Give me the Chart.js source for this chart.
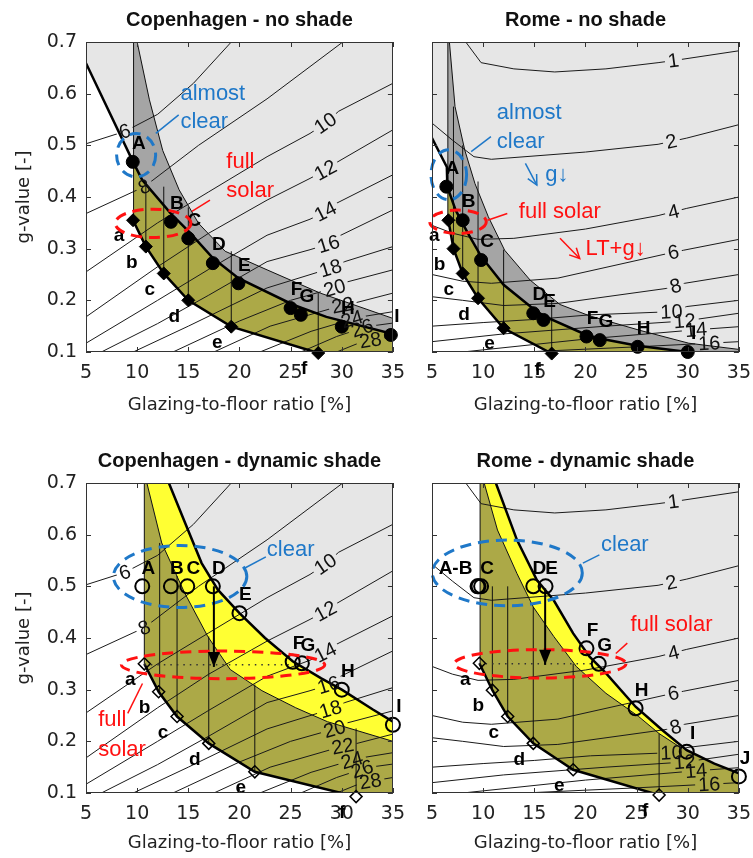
<!DOCTYPE html>
<html lang="en">
<head>
<meta charset="UTF-8">
<title>g-value vs glazing-to-floor ratio</title>
<script src="https://cdn.jsdelivr.net/npm/chart.js@4.4.1/dist/chart.umd.min.js"></script>
<style>
  body { margin: 0; background: #fff; }
  #wrap { position: relative; width: 753px; height: 858px; overflow: hidden; }
  canvas { position: absolute; }
</style>
</head>
<body>
<div id="wrap">
  <canvas id="tl" width="415" height="420" style="left:0;top:0"></canvas>
  <canvas id="tr" width="415" height="420" style="left:346px;top:0"></canvas>
  <canvas id="bl" width="415" height="418" style="left:0;top:440px"></canvas>
  <canvas id="br" width="415" height="418" style="left:346px;top:440px"></canvas>
</div>
<script>
// axes
const xTicks = [5, 10, 15, 20, 25, 30, 35];
const yTicks = [0.1, 0.2, 0.3, 0.4, 0.5, 0.6, 0.7];

// contour lines, Copenhagen
const cphLevels = [6, 8, 10, 12, 14, 16, 18, 20, 22, 24, 26, 28];
const cphLines = [
  [[5,0.503],[8.8,0.527],[12,0.56],[15.5,0.62],[19.2,0.7]],
  [[5,0.368],[10.7,0.42],[16,0.5],[22.7,0.59],[30.1,0.7]],
  [[5,0.255],[12,0.35],[17,0.41],[22.7,0.478],[26.9,0.523],[28.4,0.543],[29.7,0.566],[35,0.62]],
  [[5,0.168],[12,0.265],[17,0.33],[22.7,0.394],[26.9,0.436],[28.4,0.452],[29.6,0.468],[35,0.53]],
  [[5,0.117],[12,0.2],[17,0.26],[22.7,0.326],[26.9,0.357],[28.4,0.372],[29.5,0.388],[35,0.443]],
  [[5,0.085],[12,0.155],[17,0.21],[22.7,0.275],[26.9,0.298],[28.7,0.309],[29.8,0.325],[35,0.375]],
  [[8,0.085],[15,0.15],[22.7,0.224],[28.9,0.262],[30.3,0.275],[35,0.304]],
  [[13.5,0.1],[20,0.16],[25,0.2],[29.3,0.224],[30.6,0.236],[35,0.259]],
  [[17.5,0.1],[23,0.15],[30,0.19],[31.3,0.195],[35,0.214]],
  [[22,0.1],[27,0.14],[31.6,0.167],[35,0.178]],
  [[26,0.1],[29.5,0.13],[32.4,0.149],[35,0.156]],
  [[29.5,0.1],[32,0.12],[35,0.13]]
];
const cphLabelX = [8.8, 10.7, 28.4, 28.4, 28.4, 28.7, 28.9, 29.3, 30.1, 31.0, 32.0, 32.8];

// contour lines, Rome
const romLevels = [1, 2, 4, 6, 8, 10, 12, 14, 16];
const romLines = [
  [[8.3,0.7],[9.8,0.66],[13,0.648],[17,0.642],[22,0.648],[27.1,0.66],[28.6,0.664],[35,0.683]],
  [[5,0.543],[7,0.51],[9.1,0.478],[10.8,0.473],[20,0.487],[27.1,0.502],[29.9,0.514],[35,0.54]],
  [[5,0.345],[7,0.33],[9.5,0.318],[13,0.32],[20,0.338],[27.1,0.364],[29.9,0.378],[35,0.4]],
  [[5,0.25],[8,0.237],[10.8,0.233],[17.3,0.243],[27.9,0.29],[29.6,0.297],[35,0.318]],
  [[5,0.207],[8,0.2],[12,0.19],[17.3,0.194],[27.9,0.223],[29.7,0.233],[35,0.25]],
  [[5,0.15],[10,0.157],[15,0.163],[20.5,0.172],[28.4,0.178],[29.9,0.188],[35,0.2]],
  [[5,0.12],[12,0.135],[22,0.15],[29.7,0.16],[35,0.175]],
  [[8,0.1],[20,0.125],[30.8,0.143],[35,0.149]],
  [[14,0.1],[25,0.11],[32.1,0.117],[35,0.12]]
];
const romLabelX = [28.6, 28.4, 28.6, 28.6, 28.8, 28.4, 29.7, 30.8, 32.1];

const upperNames = ['A', 'B', 'C', 'D', 'E', 'F', 'G', 'H', 'I'];
const lowerNames = ['a', 'b', 'c', 'd', 'e', 'f'];

// Copenhagen - no shade
const cphNoUpper = [[9.57,0.468],[13.3,0.352],[15.0,0.32],[17.4,0.272],[19.9,0.233],[25.0,0.185],[26.0,0.172],[30.0,0.149],[34.8,0.133]];
const cphNoLower = [[9.6,0.355],[10.85,0.304],[12.6,0.252],[15.0,0.2],[19.2,0.149],[27.7,0.098]];
const cphNoEdge = [[5,0.659],[9.6,0.468],[10.5,0.433],[13.3,0.368],[15.2,0.33],[17.4,0.282],[19.9,0.243],[25.3,0.191],[28.5,0.168],[35,0.135]];
const cphNoBandTop = [[10.0,0.7],[11.2,0.588],[12.5,0.49],[14.1,0.414],[16.0,0.349],[18.6,0.295],[22.7,0.259],[27.9,0.214],[35,0.165]];
const cphNoVert = [[9.65,0.355,0.7],[10.85,0.304,0.43],[12.6,0.252,0.42],[15,0.2,0.38],[19.2,0.149,0.295],[27.7,0.098,0.214]];
const cphNoWhite = [[5,0.05],[5,0.659],[9.65,0.466],[9.65,0.355],[10.85,0.304],[12.6,0.252],[15,0.2],[19.2,0.149],[27.7,0.098],[28.5,0.05]];
const cphNoBand = [[9.65,0.7],[10.0,0.7],[11.2,0.588],[12.5,0.49],[14.1,0.414],[16.0,0.349],[18.6,0.295],[22.7,0.259],[27.9,0.214],[35,0.165],[35,0.135],[28.5,0.168],[25.3,0.191],[19.9,0.243],[17.4,0.282],[15.2,0.33],[13.3,0.368],[10.5,0.433],[9.65,0.466]];
const cphNoOlive = [[9.65,0.466],[10.5,0.433],[13.3,0.368],[15.2,0.33],[17.4,0.282],[19.9,0.243],[25.3,0.191],[28.5,0.168],[35,0.135],[35,0.05],[27.7,0.098],[19.2,0.149],[15,0.2],[12.6,0.252],[10.85,0.304],[9.65,0.355]];

// Rome - no shade
const romNoUpper = [[6.4,0.42],[8.0,0.355],[9.8,0.278],[14.9,0.175],[15.9,0.162],[20.1,0.13],[21.4,0.123],[25.1,0.11],[30.0,0.1]];
const romNoLower = [[6.6,0.355],[7.1,0.3],[8.0,0.252],[9.5,0.204],[12.0,0.146],[16.7,0.097]];
const romNoEdge = [[5,0.514],[6.45,0.458],[6.5,0.42],[7.3,0.375],[8.5,0.33],[9.8,0.285],[12,0.23],[14.8,0.185],[15.9,0.17],[20.1,0.133],[21.4,0.126],[25.1,0.112],[30,0.1],[35,0.09]];
const romNoBandTop = [[6.7,0.7],[7.25,0.575],[8.2,0.491],[9.2,0.426],[10.5,0.362],[12.1,0.297],[14.6,0.239],[17.5,0.192],[20.4,0.17],[25.3,0.142],[30.1,0.117],[35,0.105]];
const romNoVert = [[6.55,0.355,0.7],[7.1,0.3,0.575],[8.0,0.252,0.5],[9.5,0.204,0.43],[12.0,0.146,0.298],[16.7,0.097,0.2]];
const romNoWhite = [[5,0.05],[5,0.514],[6.45,0.458],[6.55,0.415],[6.55,0.355],[7.1,0.3],[8,0.252],[9.5,0.204],[12,0.146],[16.7,0.097],[17.5,0.05]];
const romNoBand = [[6.55,0.7],[6.7,0.7],[7.25,0.575],[8.2,0.491],[9.2,0.426],[10.5,0.362],[12.1,0.297],[14.6,0.239],[17.5,0.192],[20.4,0.17],[25.3,0.142],[30.1,0.117],[35,0.105],[35,0.09],[30,0.1],[25.1,0.112],[21.4,0.126],[20.1,0.133],[15.9,0.17],[14.8,0.185],[12,0.23],[9.8,0.285],[8.5,0.33],[7.3,0.375],[6.55,0.415]];
const romNoOlive = [[6.55,0.415],[7.3,0.375],[8.5,0.33],[9.8,0.285],[12,0.23],[14.8,0.185],[15.9,0.17],[20.1,0.133],[21.4,0.126],[25.1,0.112],[30,0.1],[35,0.09],[35,0.05],[16.7,0.097],[12,0.146],[9.5,0.204],[8,0.252],[7.1,0.3],[6.55,0.355]];

// Copenhagen - dynamic shade
const cphDynUpper = [[10.5,0.5],[13.3,0.5],[14.9,0.5],[17.4,0.5],[20.0,0.448],[25.2,0.354],[26.1,0.351],[30.0,0.3],[35.0,0.232]];
const cphDynLower = [[10.7,0.35],[12.1,0.296],[13.9,0.248],[17.0,0.196],[21.5,0.141],[31.4,0.093]];
const cphDynEdge = [[13.1,0.7],[14.7,0.622],[16.3,0.545],[17.9,0.493],[20,0.448],[22.5,0.4],[25.2,0.355],[28,0.322],[30,0.3],[33,0.262],[35,0.238]];
const cphDynInner = [[10.95,0.7],[12.4,0.584],[14.65,0.487],[16.9,0.403],[19.1,0.339],[22.2,0.298],[25.5,0.265],[28.6,0.238],[35,0.2]];
const cphDynVert = [[10.7,0.35,0.7],[12.2,0.296,0.584],[13.9,0.248,0.52],[17.0,0.196,0.403],[21.5,0.141,0.31],[31.4,0.093,0.225]];
const cphDynWhite = [[5,0.05],[5,0.7],[10.7,0.7],[10.7,0.35],[12.1,0.296],[13.9,0.248],[17,0.196],[21.5,0.141],[31.4,0.093],[31.6,0.05]];
const cphDynYellow = [[10.95,0.7],[12.4,0.584],[14.65,0.487],[16.9,0.403],[19.1,0.339],[22.2,0.298],[25.5,0.265],[28.6,0.238],[35,0.2],[35,0.238],[33,0.262],[30,0.3],[28,0.322],[25.2,0.355],[22.5,0.4],[20,0.448],[17.9,0.493],[16.3,0.545],[14.7,0.622],[13.1,0.7]];
const cphDynOlive = [[10.7,0.7],[10.95,0.7],[12.4,0.584],[14.65,0.487],[16.9,0.403],[19.1,0.339],[22.2,0.298],[25.5,0.265],[28.6,0.238],[35,0.2],[35,0.05],[31.4,0.093],[21.5,0.141],[17,0.196],[13.9,0.248],[12.1,0.296],[10.7,0.35]];
const cphDynDotted = [[10.7,0.348],[25.2,0.348]];

// Rome - dynamic shade
const romDynNames = ['A-B', '', 'C', 'D', 'E', 'F', 'G', 'H', 'I', 'J'];
const romDynUpper = [[9.45,0.5],[9.55,0.5],[9.8,0.5],[14.9,0.5],[16.1,0.5],[20.1,0.38],[21.3,0.35],[24.9,0.264],[29.9,0.18],[35.0,0.132]];
const romDynLower = [[9.63,0.351],[10.9,0.299],[12.4,0.248],[14.9,0.196],[18.8,0.145],[27.2,0.096]];
const romDynEdge = [[11.24,0.7],[13.3,0.59],[15.25,0.512],[16.9,0.473],[18.8,0.409],[20.4,0.364],[22,0.332],[24.9,0.267],[27.5,0.222],[29.9,0.183],[32.6,0.157],[35,0.138]];
const romDynInner = [[10.1,0.7],[11.4,0.609],[13.3,0.525],[14.9,0.46],[16.9,0.403],[19.1,0.345],[22,0.293],[25.2,0.248],[27.2,0.215],[29.3,0.188]];
const romDynVert = [[9.7,0.351,0.7],[10.9,0.299,0.5],[12.4,0.248,0.5],[14.9,0.196,0.46],[18.8,0.145,0.35],[27.2,0.096,0.215]];
const romDynWhite = [[5,0.05],[5,0.7],[9.7,0.7],[9.7,0.351],[10.9,0.299],[12.4,0.248],[14.9,0.196],[18.8,0.145],[27.2,0.096],[27.4,0.05]];
const romDynYellow = [[10.1,0.7],[11.4,0.609],[13.3,0.525],[14.9,0.46],[16.9,0.403],[19.1,0.345],[22,0.293],[25.2,0.248],[27.2,0.215],[29.3,0.188],[27.5,0.222],[24.9,0.267],[22,0.332],[20.4,0.364],[18.8,0.409],[16.9,0.473],[15.25,0.512],[13.3,0.59],[11.24,0.7]];
const romDynOlive = [[9.7,0.7],[10.1,0.7],[11.4,0.609],[13.3,0.525],[14.9,0.46],[16.9,0.403],[19.1,0.345],[22,0.293],[25.2,0.248],[27.2,0.215],[29.3,0.188],[32.6,0.155],[35,0.137],[35,0.05],[27.2,0.096],[18.8,0.145],[14.9,0.196],[12.4,0.248],[10.9,0.299],[9.7,0.351]];
const romDynDotted = [[9.6,0.35],[20.9,0.35]];

// colours and fonts
const LIGHT = '#e6e6e6', BAND = '#a5a5a5', OLIVE = '#aca947', YELLOW = '#ffff33';
const BLUE = '#1f78c8', RED = '#ff1111';
const TICKF = '"DejaVu Sans", sans-serif';
const SANS = '"Liberation Sans", Arial, sans-serif';
const LABEL_FONT = '20px ' + SANS;

function pts(a) { return a.map(p => ({x: p[0], y: p[1]})); }

function areaSet(a, color, order) {
  return {data: pts(a), fill: 'shape', backgroundColor: color, borderColor: 'rgba(0,0,0,0)',
    borderWidth: 0, pointRadius: 0, order};
}
function lineSet(a, width, order, extra) {
  return Object.assign({data: pts(a), fill: false, borderColor: '#000', borderWidth: width,
    pointRadius: 0, order}, extra || {});
}
function vertSet(v) {
  const d = [];
  v.forEach(([x, y0, y1]) => d.push({x, y: y0}, {x, y: y1}, {x, y: null}));
  return {data: d, fill: false, borderColor: '#111', borderWidth: 1, pointRadius: 0, spanGaps: false, order: 15};
}

function contourLabels(chart, cfg) {
  const xs = chart.scales.x, ys = chart.scales.y;
  const out = [];
  cfg.lines.forEach((line, i) => {
    const lx = cfg.labelX[i];
    for (let k = 0; k < line.length - 1; k++) {
      const [x1, y1] = line[k], [x2, y2] = line[k + 1];
      if (lx >= x1 && lx <= x2) {
        const ly = y1 + (lx - x1) / (x2 - x1) * (y2 - y1);
        const ang = Math.atan2(ys.getPixelForValue(y2) - ys.getPixelForValue(y1),
                               xs.getPixelForValue(x2) - xs.getPixelForValue(x1));
        out.push({text: String(cfg.levels[i]), px: xs.getPixelForValue(lx), py: ys.getPixelForValue(ly), ang});
        break;
      }
    }
  });
  return out;
}

function arrowHead(ctx, x1, y1, x2, y2, len, half, filled) {
  const a = Math.atan2(y2 - y1, x2 - x1);
  const bx = x2 - len * Math.cos(a), by = y2 - len * Math.sin(a);
  const nx = -Math.sin(a) * half, ny = Math.cos(a) * half;
  ctx.beginPath();
  if (filled) {
    ctx.moveTo(x2, y2); ctx.lineTo(bx + nx, by + ny); ctx.lineTo(bx - nx, by - ny); ctx.closePath(); ctx.fill();
  } else {
    ctx.moveTo(bx + nx, by + ny); ctx.lineTo(x2, y2); ctx.lineTo(bx - nx, by - ny); ctx.stroke();
  }
}

function panelPlugin(cfg) {
  return {
    id: 'panel',
    beforeDatasetsDraw(chart) {
      const {ctx, chartArea: a} = chart;
      ctx.save();
      ctx.fillStyle = LIGHT;
      ctx.fillRect(a.left, a.top, a.width, a.height);
      ctx.restore();
    },
    beforeDatasetDraw(chart, args) {
      if (chart.data.datasets[args.index].kind !== 'contour') return;
      const ctx = chart.ctx;
      ctx.save();
      ctx.font = LABEL_FONT;
      ctx.beginPath();
      ctx.rect(0, 0, chart.width, chart.height);
      for (const L of contourLabels(chart, cfg)) {
        const w = ctx.measureText(L.text).width / 2 + 3, h = 8;
        const c = Math.cos(L.ang), s = Math.sin(L.ang);
        const cs = [[-w, -h], [w, -h], [w, h], [-w, h]].map(([u, v]) => [L.px + u * c - v * s, L.py + u * s + v * c]);
        ctx.moveTo(cs[0][0], cs[0][1]);
        for (let i = 1; i < 4; i++) ctx.lineTo(cs[i][0], cs[i][1]);
        ctx.closePath();
      }
      ctx.clip('evenodd');
    },
    afterDatasetDraw(chart, args) {
      if (chart.data.datasets[args.index].kind === 'contour') chart.ctx.restore();
    },
    afterDatasetsDraw(chart) {
      const {ctx, chartArea: a} = chart;
      const xs = chart.scales.x, ys = chart.scales.y;
      const X = v => xs.getPixelForValue(v), Y = v => ys.getPixelForValue(v);
      ctx.save();

      // contour labels
      ctx.font = LABEL_FONT;
      ctx.fillStyle = '#111';
      ctx.textAlign = 'center';
      ctx.textBaseline = 'middle';
      for (const L of contourLabels(chart, cfg)) {
        ctx.save();
        ctx.translate(L.px, L.py);
        ctx.rotate(L.ang);
        ctx.fillText(L.text, 0, 1);
        ctx.restore();
      }

      // point letters
      ctx.font = 'bold 19px ' + SANS;
      ctx.fillStyle = '#000';
      cfg.upper.forEach((p, i) => {
        const t = cfg.upperNames[i];
        if (!t) return;
        const n = (cfg.nudge && cfg.nudge[t]) || [6, -18];
        ctx.fillText(t, X(p[0]) + n[0], Y(p[1]) + n[1]);
      });
      cfg.lowerPts.forEach((p, i) => ctx.fillText(lowerNames[i], X(p[0]) - 14, Y(p[1]) + 16));

      // dashed ellipses
      ctx.lineWidth = 3;
      ctx.setLineDash([11, 7]);
      for (const e of cfg.ellipses) {
        ctx.strokeStyle = e.c;
        ctx.beginPath();
        ctx.ellipse(X(e.x), Y(e.y), e.rx, e.ry, 0, 0, Math.PI * 2);
        ctx.stroke();
      }
      ctx.setLineDash([]);

      // leader lines
      ctx.lineWidth = 1.5;
      for (const l of cfg.leaders) {
        ctx.strokeStyle = l[4];
        ctx.beginPath(); ctx.moveTo(X(l[0]), Y(l[1])); ctx.lineTo(X(l[2]), Y(l[3])); ctx.stroke();
      }
      // arrows
      for (const r of cfg.arrows) {
        const x1 = X(r[0]), y1 = Y(r[1]), x2 = X(r[2]), y2 = Y(r[3]);
        ctx.strokeStyle = r[4]; ctx.fillStyle = r[4];
        ctx.lineWidth = r[5] ? 2 : 1.5;
        ctx.beginPath(); ctx.moveTo(x1, y1); ctx.lineTo(x2, y2); ctx.stroke();
        if (r[5]) arrowHead(ctx, x1, y1, x2, y2, 15, 6, true);
        else arrowHead(ctx, x1, y1, x2, y2, 10, 5, false);
      }
      // annotation text
      ctx.font = '22px ' + SANS;
      ctx.textAlign = 'left';
      for (const t of cfg.texts) {
        ctx.fillStyle = t[3];
        ctx.fillText(t[0], X(t[1]), Y(t[2]));
      }

      // frame and inward ticks
      ctx.strokeStyle = '#333';
      ctx.lineWidth = 1;
      ctx.strokeRect(Math.round(a.left) + 0.5, Math.round(a.top) + 0.5, Math.round(a.width) - 1, Math.round(a.height) - 1);
      ctx.beginPath();
      xTicks.forEach(v => {
        const px = Math.round(X(v)) + 0.5;
        ctx.moveTo(px, a.bottom); ctx.lineTo(px, a.bottom - 5);
        ctx.moveTo(px, a.top); ctx.lineTo(px, a.top + 5);
      });
      yTicks.forEach(v => {
        const py = Math.round(Y(v)) + 0.5;
        ctx.moveTo(a.left, py); ctx.lineTo(a.left + 5, py);
        ctx.moveTo(a.right, py); ctx.lineTo(a.right - 5, py);
      });
      ctx.stroke();

      // title
      ctx.font = 'bold 20px ' + SANS;
      ctx.fillStyle = '#111';
      ctx.textAlign = 'center';
      ctx.fillText(cfg.title, (a.left + a.right) / 2, a.top - 22);
      ctx.restore();
    }
  };
}

function makePanel(id, cfg) {
  const canvas = document.getElementById(id);
  const H = canvas.height, W = canvas.width;
  const top = cfg.dynamic ? 43 : 42;
  const datasets = [];
  datasets.push(areaSet(cfg.white, '#ffffff', 30));
  datasets.push(areaSet(cfg.mid, cfg.dynamic ? YELLOW : BAND, 29));
  datasets.push(areaSet(cfg.olive, OLIVE, 28));
  cfg.lines.forEach(l => datasets.push(lineSet(l, 1, 20, {kind: 'contour', borderColor: '#1a1a1a'})));
  datasets.push(vertSet(cfg.verts));
  datasets.push(lineSet(cfg.thin, 1, 14, {borderColor: '#111'}));
  datasets.push(lineSet(cfg.edge, 2.5, 12));
  datasets.push(lineSet(cfg.lowerPts, 2.5, 12));
  if (cfg.dotted) datasets.push(lineSet(cfg.dotted, 1.5, 11, {borderColor: '#333', borderDash: [1.5, 5]}));
  const solid = !cfg.dynamic;
  datasets.push({data: pts(cfg.lowerPts), showLine: false, clip: false, order: 5,
    pointStyle: 'rectRot', pointRadius: solid ? 6.5 : 6,
    pointBackgroundColor: solid ? '#000' : 'rgba(0,0,0,0)', pointBorderColor: '#000', pointBorderWidth: solid ? 1 : 1.5});
  datasets.push({data: pts(cfg.upper), showLine: false, clip: false, order: 4,
    pointStyle: 'circle', pointRadius: solid ? 6.5 : 7,
    pointBackgroundColor: solid ? '#000' : 'rgba(0,0,0,0)', pointBorderColor: '#000', pointBorderWidth: solid ? 1 : 2});

  return new Chart(canvas, {
    type: 'line',
    data: {datasets},
    options: {
      responsive: false,
      animation: false,
      devicePixelRatio: 1,
      events: [],
      layout: {padding: {left: 0, top, right: W - 397, bottom: 0}},
      plugins: {legend: {display: false}, tooltip: {enabled: false}},
      scales: {
        x: {
          type: 'linear', min: 5, max: 35,
          afterBuildTicks: s => { s.ticks = xTicks.map(v => ({value: v})); },
          afterFit: s => { s.height = H - (top + 310); },
          grid: {display: false, drawTicks: false},
          border: {display: false},
          ticks: {font: {family: TICKF, size: 19}, color: '#222', padding: 10, maxRotation: 0, autoSkip: false},
          title: {display: true, text: 'Glazing-to-floor ratio [%]', color: '#222',
                  font: {family: TICKF, size: 18}, padding: {top: 0, bottom: 4}}
        },
        y: {
          type: 'linear', min: 0.1, max: 0.7,
          afterBuildTicks: s => { s.ticks = yTicks.map(v => ({value: v})); },
          afterFit: s => { s.width = 86; },
          grid: {display: false, drawTicks: false},
          border: {display: false},
          ticks: {display: cfg.showY, font: {family: TICKF, size: 19}, color: '#222', padding: 9,
                  callback: v => Number(v).toFixed(1)},
          title: {display: cfg.showY, text: 'g-value [-]', color: '#222',
                  font: {family: TICKF, size: 18}, padding: {top: 14, bottom: 0}}
        }
      }
    },
    plugins: [panelPlugin(cfg)]
  });
}

makePanel('tl', {
  title: 'Copenhagen - no shade', dynamic: false, showY: true,
  levels: cphLevels, lines: cphLines, labelX: cphLabelX,
  white: cphNoWhite, mid: cphNoBand, olive: cphNoOlive,
  thin: cphNoBandTop, edge: cphNoEdge, verts: cphNoVert,
  upper: cphNoUpper, upperNames: upperNames, lowerPts: cphNoLower,
  ellipses: [{x: 9.9, y: 0.481, rx: 19.5, ry: 21.7, c: BLUE}, {x: 11.56, y: 0.349, rx: 37.8, ry: 14.2, c: RED}],
  texts: [['almost', 14.23, 0.599, BLUE], ['clear', 14.23, 0.546, BLUE], ['full', 18.72, 0.467, RED], ['solar', 18.72, 0.412, RED]],
  leaders: [[14.06, 0.559, 11.82, 0.523, BLUE], [17.12, 0.394, 15.35, 0.372, RED]],
  arrows: []
});

makePanel('tr', {
  title: 'Rome - no shade', dynamic: false, showY: false,
  levels: romLevels, lines: romLines, labelX: romLabelX,
  white: romNoWhite, mid: romNoBand, olive: romNoOlive,
  thin: romNoBandTop, edge: romNoEdge, verts: romNoVert,
  upper: romNoUpper, upperNames: upperNames, lowerPts: romNoLower,
  ellipses: [{x: 6.64, y: 0.443, rx: 17.8, ry: 25, c: BLUE}, {x: 7.54, y: 0.352, rx: 28.3, ry: 11.7, c: RED}],
  texts: [['almost', 11.34, 0.562, BLUE], ['clear', 11.34, 0.507, BLUE], ['g\u2193', 16.06, 0.443, BLUE],
          ['full solar', 13.49, 0.372, RED], ['LT+g\u2193', 20.01, 0.3, RED]],
  leaders: [[10.76, 0.517, 8.83, 0.488, BLUE], [12.36, 0.368, 10.43, 0.355, RED]],
  arrows: [[14.13, 0.465, 15.25, 0.423, BLUE, false], [17.51, 0.32, 19.44, 0.281, RED, false]]
});

makePanel('bl', {
  title: 'Copenhagen - dynamic shade', dynamic: true, showY: true,
  levels: cphLevels, lines: cphLines, labelX: cphLabelX,
  white: cphDynWhite, mid: cphDynYellow, olive: cphDynOlive,
  thin: cphDynInner, edge: cphDynEdge, verts: cphDynVert, dotted: cphDynDotted,
  upper: cphDynUpper, upperNames: upperNames, lowerPts: cphDynLower,
  ellipses: [{x: 14.2, y: 0.519, rx: 66.7, ry: 31, c: BLUE}, {x: 18.4, y: 0.348, rx: 101.7, ry: 13.8, c: RED}],
  texts: [['clear', 22.68, 0.57, BLUE], ['full', 6.19, 0.241, RED], ['solar', 6.19, 0.183, RED]],
  leaders: [[22.58, 0.557, 20.49, 0.535, BLUE], [9.08, 0.254, 10.52, 0.312, RED]],
  arrows: [[17.5, 0.5, 17.5, 0.344, '#000', true]]
});

makePanel('br', {
  title: 'Rome - dynamic shade', dynamic: true, showY: false,
  levels: romLevels, lines: romLines, labelX: romLabelX,
  white: romDynWhite, mid: romDynYellow, olive: romDynOlive,
  thin: romDynInner, edge: romDynEdge, verts: romDynVert, dotted: romDynDotted,
  upper: romDynUpper, upperNames: romDynNames, lowerPts: romDynLower,
  nudge: {'A-B': [-22, -18]},
  ellipses: [{x: 12.36, y: 0.526, rx: 75, ry: 32.8, c: BLUE}, {x: 15.58, y: 0.35, rx: 85.8, ry: 14.2, c: RED}],
  texts: [['clear', 21.52, 0.58, BLUE], ['full solar', 24.41, 0.425, RED]],
  leaders: [[21.36, 0.561, 19.75, 0.545, BLUE], [24.09, 0.39, 22.97, 0.37, RED]],
  arrows: [[16.06, 0.496, 16.06, 0.348, '#000', true]]
});
</script>
</body>
</html>
